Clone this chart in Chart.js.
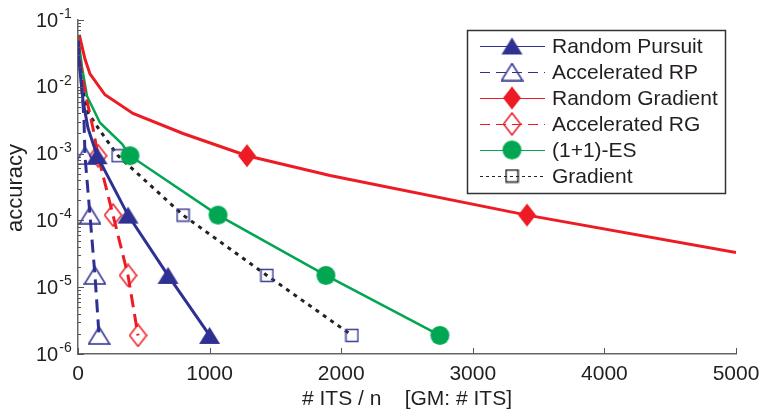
<!DOCTYPE html>
<html>
<head>
<meta charset="utf-8">
<script src="https://cdn.jsdelivr.net/npm/chart.js@4.4.1/dist/chart.umd.min.js"></script>
<style>
  html, body { margin: 0; padding: 0; background: #fff; }
  #wrap { width: 760px; height: 413px; }
</style>
</head>
<body>
<div id="wrap"><canvas id="chart"></canvas></div>
<script>
// target accuracies, markers sit where a curve reaches one of these
const levels = [9.3e-4, 1.2e-4, 1.5e-5, 1.9e-6];

const rpX = [0, 8, 38, 76, 145, 380, 684, 1000];
const rpY = [0.05, 0.0245, 6.2e-3, 2.4e-3, 9.3e-4, 1.2e-4, 1.5e-5, 1.9e-6];

const arpX = [0, 25, 45, 53, 91, 129, 160];
const arpY = [0.05, 1.2e-2, 3.5e-3, 9.3e-4, 1.2e-4, 1.5e-5, 1.9e-6];

const rgX = [10, 53, 91, 205, 418, 798, 1284, 1915, 3412, 5000];
const rgY = [0.06, 0.026, 0.0156, 7.6e-3, 4.0e-3, 2.0e-3, 9.3e-4, 4.7e-4, 1.2e-4, 3.3e-5];

const argX = [0, 30, 68, 114, 152, 266, 380, 456];
const argY = [0.05, 1.5e-2, 6.2e-3, 2.4e-3, 9.3e-4, 1.2e-4, 1.5e-5, 1.9e-6];

const esX = [0, 30, 68, 167, 334, 395, 1064, 1884, 2750];
const esY = [0.06, 0.02, 7.3e-3, 2.9e-3, 1.4e-3, 9.3e-4, 1.2e-4, 1.5e-5, 1.9e-6];

const grX = [0, 30, 76, 167, 304, 798, 1436, 2082];
const grY = [0.052, 1.03e-2, 4.1e-3, 2.2e-3, 9.3e-4, 1.2e-4, 1.5e-5, 1.9e-6];

const xTicks = [0, 1000, 2000, 3000, 4000, 5000];
const yDecades = [-6, -5, -4, -3, -2, -1];

const FONT = '"Liberation Sans", Arial, sans-serif';
const NAVY = "#2e3192";
const RED = "#ed1c24";
const GREEN = "#00a651";
const TEXT = "#231f20";

function marker(shape, w, h, fill, stroke) {
  const c = document.createElement("canvas");
  c.width = w + 2;
  c.height = h + 2;
  const g = c.getContext("2d");
  g.translate(1, 1);
  g.beginPath();
  if (shape === "tri") {
    g.moveTo(w / 2, 0);
    g.lineTo(w, h);
    g.lineTo(0, h);
    g.closePath();
  } else if (shape === "diamond") {
    g.moveTo(w / 2, 0);
    g.lineTo(w, h / 2);
    g.lineTo(w / 2, h);
    g.lineTo(0, h / 2);
    g.closePath();
  } else if (shape === "circle") {
    g.arc(w / 2, h / 2, w / 2, 0, Math.PI * 2);
  } else {
    g.rect(0.5, 0.5, w - 1, h - 1);
  }
  if (fill) {
    g.fillStyle = fill;
    g.fill();
  }
  if (stroke) {
    g.strokeStyle = stroke;
    g.lineWidth = 1.5;
    g.stroke();
  }
  return c;
}

const pts = (xs, ys) => xs.map((x, i) => ({ x, y: ys[i] }));
const markAt = (c) => (c.raw && levels.includes(c.raw.y) ? 10 : 0);

function series(label, xs, ys, color, width, dash, mk, legendMk) {
  return {
    label,
    data: pts(xs, ys),
    borderColor: color,
    borderWidth: width,
    borderDash: dash,
    borderCapStyle: "butt",
    pointStyle: mk,
    pointRadius: markAt,
    pointHoverRadius: markAt,
    legendMarker: legendMk || mk,
    tension: 0,
    fill: false,
  };
}

const datasets = [
  series("Random Pursuit", rpX, rpY, NAVY, 3, [], marker("tri", 21, 17, NAVY)),
  series("Accelerated RP", arpX, arpY, NAVY, 3, [13, 7], marker("tri", 21, 17, null, NAVY)),
  series("Random Gradient", rgX, rgY, RED, 3, [], marker("diamond", 18, 23, RED)),
  series("Accelerated RG", argX, argY, RED, 3, [13, 7], marker("diamond", 17, 22, null, RED)),
  series("(1+1)-ES", esX, esY, GREEN, 2.5, [], marker("circle", 19, 19, GREEN)),
  series("Gradient", grX, grY, "#222", 3, [4, 5], marker("square", 13, 13, null, "#3a3f95"),
    marker("square", 13, 13, null, "#222")),
];

const axisDecor = {
  id: "axisDecor",
  afterDraw(chart) {
    const ctx = chart.ctx;
    const xs = chart.scales.x;
    const ys = chart.scales.y;
    const { left, right, bottom } = chart.chartArea;
    ctx.save();
    ctx.strokeStyle = "#555";
    ctx.lineWidth = 1;
    ctx.beginPath();
    yDecades.forEach((e) => {
      const y = Math.round(ys.getPixelForValue(10 ** e)) + 0.5;
      ctx.moveTo(left, y);
      ctx.lineTo(left + 6, y);
      if (e < -1) {
        for (let k = 2; k <= 9; k++) {
          const ym = Math.round(ys.getPixelForValue(k * 10 ** e)) + 0.5;
          ctx.moveTo(left, ym);
          ctx.lineTo(left + 3, ym);
        }
      }
    });
    xTicks.forEach((v) => {
      const x = Math.round(xs.getPixelForValue(v)) + 0.5;
      ctx.moveTo(x, bottom);
      ctx.lineTo(x, bottom - 6);
    });
    ctx.stroke();

    // y tick labels with superscript exponents
    ctx.fillStyle = TEXT;
    ctx.textAlign = "left";
    yDecades.forEach((e) => {
      const y = ys.getPixelForValue(10 ** e);
      ctx.font = "20px " + FONT;
      ctx.textBaseline = "middle";
      ctx.fillText("10", 36, y + 1);
      const w = ctx.measureText("10").width;
      ctx.font = "14px " + FONT;
      ctx.textBaseline = "alphabetic";
      ctx.fillText(String(e), 36 + w + 1, y - 2);
    });

    // axis titles
    ctx.font = "21px " + FONT;
    ctx.textAlign = "center";
    ctx.textBaseline = "middle";
    ctx.fillText("# ITS / n    [GM: # ITS]", (left + right) / 2, 399);
    ctx.save();
    ctx.translate(16, 188);
    ctx.rotate(-Math.PI / 2);
    ctx.font = "22px " + FONT;
    ctx.fillText("accuracy", 0, 0);
    ctx.restore();

    // legend box
    const bx = 467.5, by = 30.5, bw = 258, bh = 163;
    ctx.fillStyle = "#fff";
    ctx.fillRect(bx, by, bw, bh);
    ctx.strokeStyle = "#333";
    ctx.lineWidth = 1.5;
    ctx.strokeRect(bx, by, bw, bh);
    chart.data.datasets.forEach((ds, i) => {
      const y = 46 + i * 26;
      ctx.strokeStyle = ds.borderColor;
      ctx.lineWidth = 1;
      ctx.setLineDash(ds.borderDash.length ? (ds.borderDash[0] > 5 ? [10, 6] : [3, 3]) : []);
      ctx.beginPath();
      ctx.moveTo(480, y + 0.5);
      ctx.lineTo(545, y + 0.5);
      ctx.stroke();
      ctx.setLineDash([]);
      const m = ds.legendMarker;
      ctx.drawImage(m, 512 - m.width / 2, y - m.height / 2);
      ctx.fillStyle = TEXT;
      ctx.font = "21px " + FONT;
      ctx.textAlign = "left";
      ctx.textBaseline = "middle";
      ctx.fillText(ds.label, 552, y + 1);
    });
    ctx.restore();
  },
};

new Chart(document.getElementById("chart"), {
  type: "line",
  data: { datasets },
  options: {
    responsive: true,
    maintainAspectRatio: false,
    animation: false,
    devicePixelRatio: 1,
    layout: { padding: { top: 20, right: 24, left: 0, bottom: 0 } },
    plugins: { legend: { display: false }, tooltip: { enabled: false } },
    scales: {
      x: {
        type: "linear",
        min: 0,
        max: 5000,
        afterFit: (s) => {
          s.height = 59;
          s.paddingLeft = 0;
          s.paddingRight = 0;
        },
        afterBuildTicks: (s) => { s.ticks = xTicks.map((v) => ({ value: v })); },
        grid: { display: false, drawTicks: false },
        border: { display: true, color: "#666", width: 1.5 },
        ticks: {
          color: TEXT,
          font: { family: FONT, size: 21 },
          padding: 8,
          maxRotation: 0,
          autoSkip: false,
          callback: (v) => String(v),
        },
      },
      y: {
        type: "logarithmic",
        min: 1e-6,
        max: 1e-1,
        afterFit: (s) => {
          s.width = 78;
          s.paddingTop = 0;
          s.paddingBottom = 0;
        },
        grid: { display: false, drawTicks: false },
        border: { display: true, color: "#666", width: 1.5 },
        ticks: { display: false },
      },
    },
  },
  plugins: [axisDecor],
});
</script>
</body>
</html>
